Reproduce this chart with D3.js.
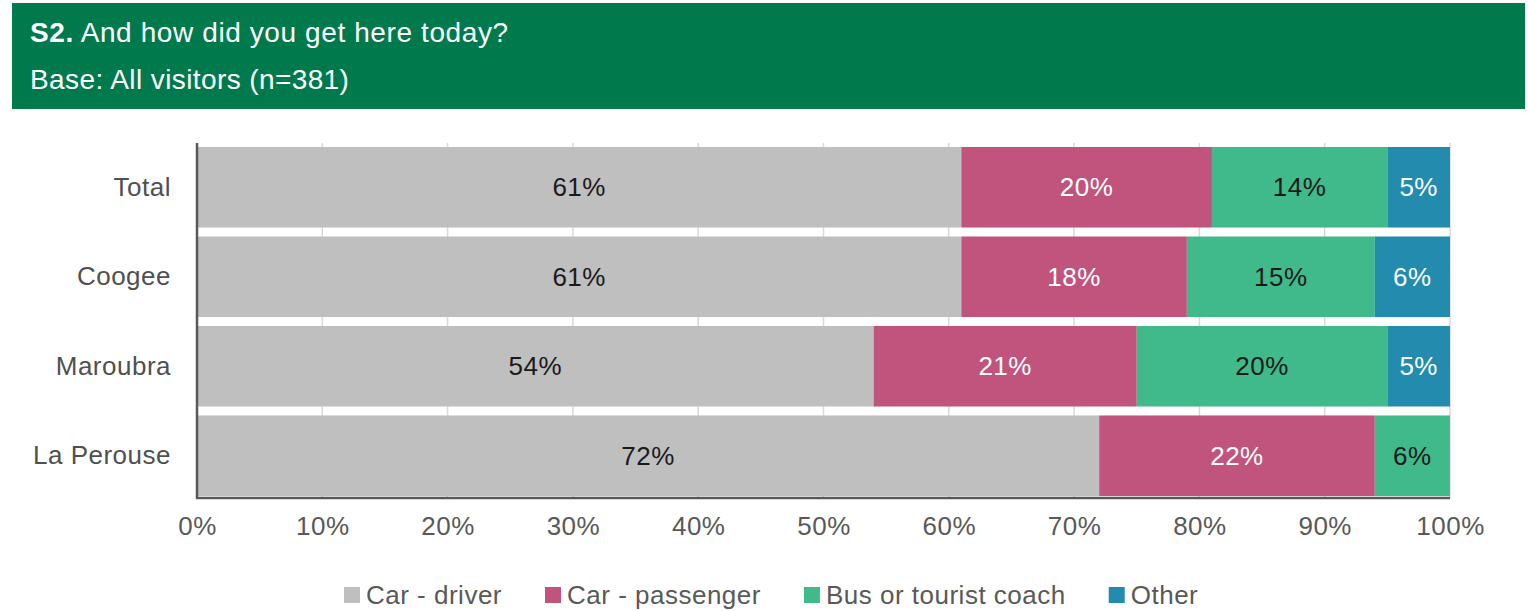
<!DOCTYPE html>
<html>
<head>
<meta charset="utf-8">
<script src="https://cdn.jsdelivr.net/npm/d3@7"></script>
<style>
  html, body { margin: 0; padding: 0; background: #fff; }
  svg { display: block; font-family: "Liberation Sans", Arial, sans-serif; }
</style>
</head>
<body>
<svg id="chart" width="1528" height="611"></svg>
<script>
const categories = ["Total", "Coogee", "Maroubra", "La Perouse"];
const seriesNames = ["Car - driver", "Car - passenger", "Bus or tourist coach", "Other"];
const carDriver = [61, 61, 54, 72];
const carPassenger = [20, 18, 21, 22];
const busCoach = [14, 15, 20, 6];
const other = [5, 6, 5, 0];
const tickValues = [0, 10, 20, 30, 40, 50, 60, 70, 80, 90, 100];
const titleBold = "S2.";
const titleRest = " And how did you get here today?";
const subtitle = "Base: All visitors (n=381)";

const colors = ["#BFBFBF", "#C1547C", "#40B98B", "#228BAE"];
const labelColors = ["#1a1a1a", "#ffffff", "#1a1a1a", "#ffffff"];

const svg = d3.select("#chart");

// Header
svg.append("rect").attr("x", 12).attr("y", 3).attr("width", 1513).attr("height", 106).attr("fill", "#007A4C");
const t1 = svg.append("text").attr("x", 30).attr("y", 42).attr("fill", "#fff").attr("font-size", 28).attr("letter-spacing", 0.6);
t1.append("tspan").attr("font-weight", "bold").text(titleBold);
t1.append("tspan").text(titleRest);
svg.append("text").attr("x", 30).attr("y", 89).attr("fill", "#fff").attr("font-size", 28).attr("letter-spacing", 0.4).text(subtitle);

// Data table
const rows = categories.map((c, i) => ({
  cat: c,
  "Car - driver": carDriver[i],
  "Car - passenger": carPassenger[i],
  "Bus or tourist coach": busCoach[i],
  "Other": other[i]
}));
const stacked = d3.stack().keys(seriesNames)(rows);

const x = d3.scaleLinear().domain([0, 100]).range([197, 1450]);
const y = d3.scaleBand().domain(categories).range([147, 496]).paddingInner(0.1).paddingOuter(0);

const plotTop = 143, plotBottom = 498;

// gridlines
svg.append("g").selectAll("line").data(tickValues.filter(d => d > 0)).join("line")
  .attr("x1", d => x(d)).attr("x2", d => x(d))
  .attr("y1", plotTop).attr("y2", plotBottom)
  .attr("stroke", "#D9D9D9").attr("stroke-width", 1.5);

// bars
const layer = svg.append("g").selectAll("g").data(stacked).join("g")
  .attr("fill", (d, i) => colors[i]);
layer.selectAll("rect").data(d => d.filter(s => s[1] - s[0] > 0).map(s => ({s, cat: s.data.cat}))).join("rect")
  .attr("x", d => x(d.s[0]))
  .attr("width", d => x(d.s[1]) - x(d.s[0]))
  .attr("y", d => y(d.cat))
  .attr("height", y.bandwidth());

// data labels
stacked.forEach((ser, i) => {
  svg.append("g").selectAll("text").data(ser.filter(s => s[1] - s[0] > 0)).join("text")
    .attr("x", d => x((d[0] + d[1]) / 2))
    .attr("y", d => y(d.data.cat) + y.bandwidth() / 2)
    .attr("dy", "0.35em")
    .attr("text-anchor", "middle")
    .attr("font-size", 26)
    .attr("letter-spacing", 0.5)
    .attr("fill", labelColors[i])
    .text(d => (d[1] - d[0]) + "%");
});

// axes lines
svg.append("line").attr("x1", 197).attr("x2", 197).attr("y1", plotTop).attr("y2", plotBottom + 1)
  .attr("stroke", "#595959").attr("stroke-width", 2.5);
svg.append("line").attr("x1", 196).attr("x2", 1450).attr("y1", plotBottom).attr("y2", plotBottom)
  .attr("stroke", "#595959").attr("stroke-width", 2.5);

// x tick labels via axis
const xAxis = svg.append("g").attr("transform", `translate(0,${plotBottom})`)
  .call(d3.axisBottom(x).tickValues(tickValues).tickFormat(d => d + "%").tickSize(0).tickPadding(18));
xAxis.select(".domain").remove();
xAxis.selectAll("text").attr("font-size", 26).attr("letter-spacing", 0.5).attr("fill", "#595959")
  .attr("font-family", "Liberation Sans, Arial, sans-serif").attr("dy", "0.72em");

// y category labels via axis
const yAxis = svg.append("g").attr("transform", `translate(171,0)`)
  .call(d3.axisLeft(y).tickSize(0).tickPadding(0));
yAxis.select(".domain").remove();
yAxis.selectAll("text").attr("font-size", 26).attr("letter-spacing", 0.5).attr("fill", "#505050")
  .attr("font-family", "Liberation Sans, Arial, sans-serif");

// legend
const legend = svg.append("g");
let lx = 344;
seriesNames.forEach((name, i) => {
  legend.append("rect").attr("x", lx).attr("y", 587).attr("width", 16).attr("height", 16).attr("fill", colors[i]);
  const tx = legend.append("text").attr("x", lx + 22).attr("y", 604)
    .attr("font-size", 26).attr("letter-spacing", 0.5).attr("fill", "#595959").text(name);
  const w = tx.node().getComputedTextLength();
  lx += 22 + w + 43;
});
</script>
</body>
</html>
